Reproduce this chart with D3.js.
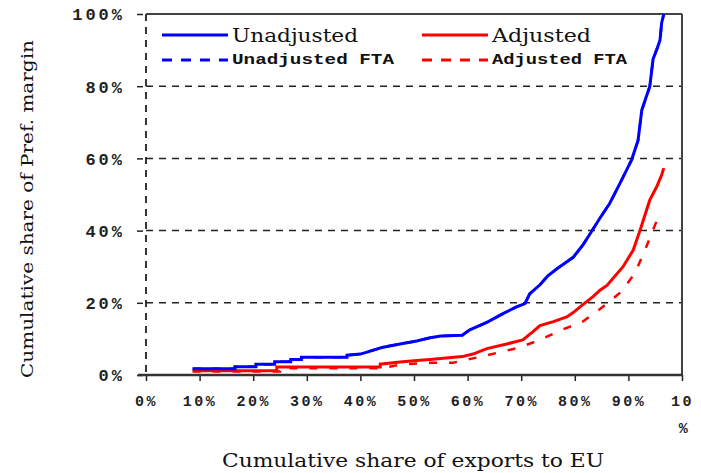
<!DOCTYPE html>
<html>
<head>
<meta charset="utf-8">
<script src="https://cdn.jsdelivr.net/npm/d3@7"></script>
<style>
  body { margin: 0; background: #fff; }
  svg { display: block; }
  .tick text { fill: #222; font-family: "Liberation Mono", monospace; }
</style>
</head>
<body>
<div id="chart"></div>
<script>
// cumulative share of exports (%) vs cumulative share of pref. margin (%)
var unadjusted = [
  [8.7, 1.7], [16.6, 1.7], [16.6, 2.3], [20.5, 2.3], [20.5, 3.0], [24, 3.0], [24, 3.7],
  [27, 3.7], [27, 4.3], [29, 4.3], [29, 4.9], [37.5, 4.9], [37.5, 5.5], [40, 5.8],
  [42, 6.7], [44, 7.6], [47.4, 8.6], [50.5, 9.4], [53, 10.3], [55, 10.8], [59, 11],
  [60.4, 12.5], [63.6, 14.6], [66.6, 17], [69, 18.8], [70.7, 19.8], [71.6, 22.5],
  [73.5, 25], [75, 27.5], [77, 29.8], [79.7, 32.6], [81.5, 36], [82.8, 39], [84.7, 43.5],
  [86.5, 47.5], [88.4, 53], [90.6, 59.6], [91.8, 65], [92.5, 73.4], [94, 80], [94.6, 87.5],
  [95.5, 91], [95.9, 92.8], [96.2, 97.5], [96.6, 100]
];
// the FTA line sits right under the unadjusted one in the picture
var unadjustedFta = unadjusted;

var adjusted = [
  [8.7, 1.2], [24.4, 1.2], [24.4, 2.2], [43.7, 2.2], [43.7, 3.0], [47.4, 3.6], [50.5, 4.0],
  [53, 4.3], [59, 5.1], [61, 5.8], [63.6, 7.3], [67.3, 8.6], [70.3, 9.7], [72.2, 12],
  [73.5, 13.7], [76, 14.8], [78.5, 16.1], [79.7, 17.3], [81.5, 19.5], [83.4, 21.7],
  [84.7, 23.5], [86, 24.8], [89, 30], [90.9, 34.6], [92.2, 40.2], [93, 43.9], [94, 48.5],
  [95.3, 52.2], [96.2, 55.4], [96.6, 57.3]
];

var adjustedFta = [
  [8.7, 1.0], [25, 1.0], [25, 1.9], [44, 1.9], [48, 3.0], [53.3, 3.4], [57.3, 3.4],
  [61, 4.6], [65.4, 6.1], [69.4, 7.5], [73.5, 9.7], [77.2, 12.3], [81.5, 14.8],
  [84.7, 18.3], [85.3, 19], [88.7, 23.1], [91.2, 28.2], [93.1, 34.6], [94.6, 40.2], [96, 45.3]
];

var xTicks = [0, 10, 20, 30, 40, 50, 60, 70, 80, 90, 100];
var yTicks = [0, 20, 40, 60, 80, 100];
var gridTicks = [20, 40, 60, 80];

var width = 701, height = 473;
var plotL = 146, plotR = 682, plotT = 14, plotB = 375;

var svg = d3.select('#chart').append('svg')
  .attr('width', width)
  .attr('height', height);

var x = d3.scaleLinear().domain([0, 100]).range([plotL, plotR]);
var y = d3.scaleLinear().domain([0, 100]).range([plotB, plotT]);

// dashed grid
svg.append('g').selectAll('line')
  .data(gridTicks)
  .enter().append('line')
  .attr('x1', plotL).attr('x2', plotR)
  .attr('y1', d => y(d)).attr('y2', d => y(d))
  .attr('stroke', '#222')
  .attr('stroke-width', 1.5)
  .attr('stroke-dasharray', '7,6');

// frame: dashed left side, solid top / right
svg.append('line')
  .attr('x1', plotL).attr('x2', plotL).attr('y1', plotT).attr('y2', plotB)
  .attr('stroke', '#222').attr('stroke-width', 1.8).attr('stroke-dasharray', '7,6');
svg.append('line')
  .attr('x1', plotL).attr('x2', plotR).attr('y1', plotT).attr('y2', plotT)
  .attr('stroke', '#444').attr('stroke-width', 2);
svg.append('line')
  .attr('x1', plotR).attr('x2', plotR).attr('y1', plotT).attr('y2', plotB)
  .attr('stroke', '#444').attr('stroke-width', 2);

// axes
var yAxis = svg.append('g')
  .attr('transform', 'translate(' + (plotL - 3) + ',0)')
  .call(d3.axisLeft(y).tickValues(yTicks).tickSize(6).tickPadding(12)
    .tickFormat(d => d + '%'));
yAxis.select('.domain').remove();
yAxis.selectAll('.tick line').attr('stroke', '#222').attr('stroke-width', 1.5);
yAxis.selectAll('.tick text')
  .style('font-size', '17px')
  .style('font-weight', 'bold')
  .style('letter-spacing', '3px')
  .attr('dy', '0.35em');

var xAxis = svg.append('g')
  .attr('transform', 'translate(0,' + plotB + ')')
  .call(d3.axisBottom(x).tickValues(xTicks).tickSize(6).tickPadding(14)
    .tickFormat(d => d + '%'));
xAxis.select('.domain').remove();
xAxis.selectAll('.tick line').attr('stroke', '#222').attr('stroke-width', 1.5);
xAxis.selectAll('.tick text')
  .style('font-size', '15px')
  .style('font-weight', 'bold')
  .style('letter-spacing', '2.5px');

// "100%" wraps onto two lines in the original
xAxis.selectAll('.tick text')
  .filter(d => d === 100)
  .text(null)
  .call(t => {
    t.append('tspan').attr('x', 0).text('10');
    t.append('tspan').attr('x', 2).attr('dy', '1.85em').text('%');
  });

svg.append('line')
  .attr('x1', plotL - 8).attr('x2', plotR + 1).attr('y1', plotB).attr('y2', plotB)
  .attr('stroke', '#333').attr('stroke-width', 2.5);

// lines
var line = d3.line()
  .x(d => x(d[0]))
  .y(d => y(d[1]));

var series = [
  { data: unadjustedFta, color: '#0000ff', dash: '9,10', w: 2.5 },
  { data: adjustedFta, color: '#ff0000', dash: '8,12', w: 2.5 },
  { data: adjusted, color: '#ff0000', dash: null, w: 3 },
  { data: unadjusted, color: '#0000ff', dash: null, w: 3 }
];

svg.append('g').selectAll('path')
  .data(series)
  .enter().append('path')
  .attr('d', d => line(d.data))
  .attr('fill', 'none')
  .attr('stroke', d => d.color)
  .attr('stroke-width', d => d.w)
  .attr('stroke-dasharray', d => d.dash);

// legend
var legend = [
  { label: 'Unadjusted', color: '#0000ff', dash: null, lx: 162, ly: 35, len: 126, big: true },
  { label: 'Adjusted', color: '#ff0000', dash: null, lx: 422, ly: 35, len: 99, big: true },
  { label: 'Unadjusted FTA', color: '#0000ff', dash: '10,9', lx: 162, ly: 60, len: 162, big: false },
  { label: 'Adjusted FTA', color: '#ff0000', dash: '10,9', lx: 422, ly: 60, len: 135, big: false }
];

var lg = svg.append('g').selectAll('g')
  .data(legend)
  .enter().append('g');

lg.append('line')
  .attr('x1', d => d.lx).attr('x2', d => d.lx + 66)
  .attr('y1', d => d.ly).attr('y2', d => d.ly)
  .attr('stroke', d => d.color)
  .attr('stroke-width', 3)
  .attr('stroke-dasharray', d => d.dash);

lg.append('text')
  .attr('x', d => d.lx + 70)
  .attr('y', d => d.big ? d.ly + 7 : d.ly + 4)
  .attr('textLength', d => d.len)
  .attr('lengthAdjust', 'spacingAndGlyphs')
  .style('font-family', d => d.big ? '"DejaVu Serif", serif' : '"Liberation Mono", monospace')
  .style('font-size', d => d.big ? '19px' : '15px')
  .style('font-weight', d => d.big ? 'normal' : 'bold')
  .style('fill', '#111')
  .text(d => d.label);

// axis titles
svg.append('text')
  .attr('x', 413).attr('y', 467)
  .attr('text-anchor', 'middle')
  .attr('textLength', 382)
  .attr('lengthAdjust', 'spacingAndGlyphs')
  .style('font-family', '"DejaVu Serif", serif')
  .style('font-size', '18px')
  .style('fill', '#111')
  .text('Cumulative share of exports to EU');

svg.append('text')
  .attr('transform', 'translate(33,209) rotate(-90)')
  .attr('text-anchor', 'middle')
  .attr('textLength', 338)
  .attr('lengthAdjust', 'spacingAndGlyphs')
  .style('font-family', '"DejaVu Serif", serif')
  .style('font-size', '17px')
  .style('fill', '#111')
  .text('Cumulative share of Pref. margin');
</script>
</body>
</html>
